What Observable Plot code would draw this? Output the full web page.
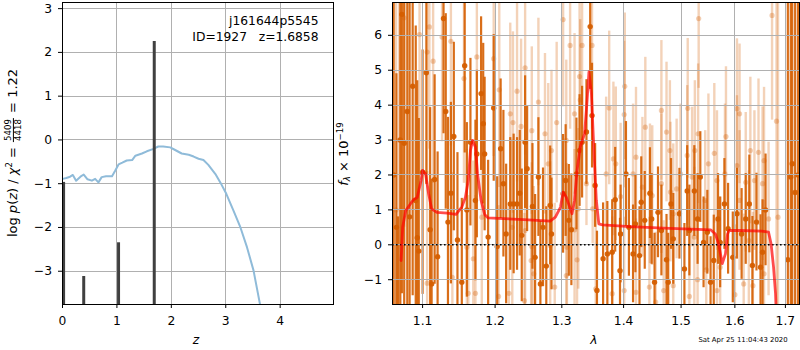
<!DOCTYPE html>
<html><head><meta charset="utf-8">
<script src="https://cdn.jsdelivr.net/npm/d3@7"></script>
<script src="https://cdn.jsdelivr.net/npm/@observablehq/plot@0.6"></script>
<style>
html,body{margin:0;padding:0;background:#fff;}
#wrap{position:relative;width:800px;height:350px;overflow:hidden;font-family:"DejaVu Sans",sans-serif;color:#000;}
#wrap svg.plot{position:absolute;top:0;}
.rot{position:absolute;transform:translate(-50%,-50%) rotate(-90deg);white-space:nowrap;font-size:13px;line-height:1;}
.frac{display:inline-block;vertical-align:middle;text-align:center;font-size:8.6px;line-height:1;margin:0 1px;}
.frac span{display:block;padding:0 1px;}
.frac .num{border-bottom:0.9px solid #000;}
sup{font-size:8.6px;vertical-align:0.55em;line-height:0;}
sub{font-size:8.6px;vertical-align:-0.3em;line-height:0;}
#over{position:absolute;left:0;top:0;pointer-events:none;}
</style></head>
<body><div id="wrap"></div>
<script>
// ---------- left panel data: log p(z) ----------
const pzZ  = [0.005,0.07,0.14,0.19,0.25,0.33,0.39,0.46,0.54,0.60,0.66,0.72,0.80,0.91,0.97,1.03,1.10,1.18,1.28,1.34,1.46,1.55,1.66,1.76,1.85,1.98,2.07,2.19,2.32,2.41,2.50,2.59,2.68,2.81,2.90,3.01,3.14,3.27,3.39,3.51,3.63,3.70];
const pzLog= [-0.89,-0.87,-0.84,-0.80,-0.93,-0.84,-0.79,-0.90,-0.93,-0.89,-0.97,-0.85,-0.83,-0.83,-0.70,-0.56,-0.52,-0.47,-0.46,-0.36,-0.31,-0.26,-0.21,-0.15,-0.15,-0.17,-0.23,-0.31,-0.34,-0.38,-0.43,-0.46,-0.57,-0.78,-0.97,-1.23,-1.61,-2.00,-2.45,-2.98,-3.76,-4.20];
const barZ   = [0.02, 0.39, 1.03, 1.686];
const barTop = [-0.97, -3.12, -2.35, 2.25];
const zTicks = [0,1,2,3,4];
const pTicks = [-3,-2,-1,0,1,2,3];

// ---------- right panel data: spectrum (flux x 1e-19) ----------
const lamD = [1.0625,1.066,1.068,1.071,1.073,1.076,1.080,1.083,1.087,1.091,1.093,1.095,1.100,1.105,1.110,1.112,1.116,1.120,1.128,1.131,1.134,1.138,1.142,1.147,1.153,1.157,1.160,1.165,1.172,1.174,1.180,1.183,1.185,1.190,1.198,1.203,1.208,1.212,1.216,1.222,1.227,1.232,1.236,1.239,1.244,1.247,1.255,1.259,1.264,1.267,1.271,1.276,1.282,1.284,1.302,1.306,1.311,1.315,1.323,1.328,1.332,1.339,1.345,1.348,1.353,1.356,1.366,1.373,1.381,1.386,1.394,1.395,1.404,1.409,1.416,1.420,1.427,1.430,1.436,1.445,1.448,1.453,1.459,1.465,1.474,1.477,1.482,1.486,1.497,1.506,1.511,1.515,1.524,1.530,1.535,1.541,1.548,1.554,1.560,1.568,1.572,1.580,1.587,1.596,1.604,1.613,1.621,1.628,1.634,1.642,1.650,1.654,1.660,1.705,1.711,1.714,1.720,1.726];
const fluxD= [2.0,0.5,-1.8,3.0,6.6,2.91,3.82,0.8,4.54,1.27,0.2,-0.18,2.08,4.93,0.43,-1.12,1.87,-0.34,6.48,3.82,0.65,1.48,3.1,0.14,-1.07,5.13,1.0,2.94,1.27,2.6,4.33,3.47,2.6,0.22,3.92,-0.05,2.75,1.75,0.31,1.17,1.17,1.17,1.48,0.27,2.94,2.18,1.1,-0.36,1.94,-1.12,0.5,-0.61,1.13,0.31,1.46,1.84,0.7,0.43,2.03,2.7,2.94,3.23,6.25,3.7,1.7,-1.31,-0.4,-0.26,-0.21,1.29,-0.74,0.31,2.03,0.5,-0.26,0.6,-0.31,1.22,0.7,1.48,0.74,-1.07,0.93,0.41,-0.43,-1.07,1.17,0.17,0.89,-0.69,1.54,0.41,1.54,0.74,1.94,0.07,0.36,-1.07,-0.45,0.74,0.07,1.17,0.46,-0.36,0.89,0.31,0.74,1.17,-0.59,0.65,-0.64,-0.21,1.0,-0.43,1.94,2.32,1.5,2.0];
const errD = [9,4.4,2.6,9,8,8,8,7,6,5,4.5,3.8,3.5,3.2,3.5,3,3,3,3.3,2.8,3,2.6,2.7,2.5,2.4,2.5,2.5,2.4,2.3,2.4,2.2,2.3,2.2,2.2,2.1,2,2,2.1,2,1.9,2,1.9,1.8,1.9,1.9,1.8,1.8,1.8,1.7,1.8,1.7,1.7,1.7,1.6,1.7,1.6,1.6,1.6,1.6,1.6,1.6,1.5,1.8,1.5,1.2,1.7,1.6,1.5,1.5,1.5,1.5,1.4,1.5,1.4,1.4,1.4,1.4,1.3,1.4,1.3,1.3,1.4,1.3,1.3,1.3,1.4,1.3,1.3,1.3,1.3,1.3,1.3,1.3,1.3,1.3,1.3,1.2,1.3,1.3,1.3,1.3,1.3,1.3,1.3,1.3,1.3,1.3,1.4,1.4,1.4,1.5,1.5,1.6,9,9,9,9,9];

const lamL = [1.0655,1.0695,1.076,1.096,1.106,1.109,1.114,1.126,1.138,1.156,1.174,1.198,1.206,1.232,1.244,1.222,1.226,1.238,1.264,1.254,1.274,1.279,1.284,1.292,1.302,1.307,1.313,1.320,1.328,1.329,1.332,1.339,1.348,1.349,1.376,1.383,1.387,1.401,1.402,1.421,1.437,1.445,1.465,1.474,1.480,1.512,1.511,1.525,1.531,1.532,1.550,1.561,1.583,1.604,1.609,1.604,1.630,1.646,1.654,1.673,1.682,1.685,
  1.106,1.140,1.162,1.172,1.169,1.205,1.220,1.243,1.253,1.257,1.289,1.307,1.324,1.308,1.354,1.381,1.401,1.421,1.444,1.455,1.469,1.486,1.515,1.530,1.546,1.566,1.600,1.617,1.635,1.657,
  1.160,1.181,1.225,1.244,1.254,1.282,1.320,1.326,1.371,1.395,1.416,1.432,1.449,1.465,1.481,1.492,1.499,1.520,1.544,1.566,1.581,1.609,1.621,1.638,1.657,1.666,1.486,1.524,1.572,1.627];
const fluxL= [1.0,3.0,6.5,6.02,5.52,6.24,5.26,5.95,5.83,4.76,5.38,5.33,4.44,4.4,5.07,3.75,3.5,3.39,4.09,3.27,3.18,2.32,2.7,3.5,6.45,2.99,5.71,3.75,4.82,4.15,5.71,1.75,5.71,1.03,3.92,2.46,2.32,3.73,4.54,2.51,3.37,1.46,3.85,3.23,2.7,3.91,2.56,2.7,3.18,6.48,2.32,2.62,3.1,3.9,3.75,2.27,2.7,2.65,1.75,6.57,3.54,0.79,
  -1.1,-0.93,-1.39,-1.39,-0.4,-1.48,-1.39,-1.6,-0.45,-0.83,-1.21,-0.88,-0.43,-0.07,-1.26,-1.4,-1.31,-1.36,-1.21,-1.64,-1.31,-1.17,-1.48,-1.0,-0.72,-1.31,-1.43,-1.12,-1.17,-0.83,
  -0.07,0.79,0.5,0.41,-0.05,-0.02,0.43,1.03,2.03,1.38,2.03,1.65,1.41,1.75,1.51,1.6,2.03,1.94,1.27,1.84,2.03,1.27,1.79,1.84,2.41,0.74,0.89,0.22,-0.64,0.12];
const errL = [9,9,6,4,3.5,3.5,3.5,3,3,3,3,2.8,2.8,2.6,2.5,2.6,2.6,2.5,2.4,2.4,2.3,2.3,2.3,2.3,2.5,2.3,2.4,2.3,2.4,2.3,2.4,1.2,2.4,1.0,2.2,2.2,2.2,2.1,2.1,2,2,2,2,2,2,2,2,2,2,2,2,2,2,2,2,2,2.1,2.1,2.2,3,9,9,
  3.2,3,2.8,2.8,2.8,2.6,2.6,2.5,2.5,2.5,2.4,2.4,2.4,2.4,2.3,2.2,2.1,2.1,2,2,2,2,2,2,2,2,2,2,2.1,2.1,
  2.8,2.7,2.5,2.5,2.4,2.4,2.3,2.3,2.2,2.1,2,2,2,2,2,2,2,2,2,2,2,2,2,2,2.1,2.2,2,2,2,2];

const lamM = [1.072,1.074,1.078,1.084,1.088,1.093,1.098,1.100,1.104,1.108,1.112,1.119,1.133,1.145,1.153,1.158,1.162,1.165,1.168,1.172,1.175,1.180,1.185,1.190,1.213,1.242,1.282,1.290,1.298,1.302,1.307,1.312,1.316,1.320,1.324,1.329,1.336,1.340,1.343,1.347,1.351,1.355,1.359,1.365,1.411,1.469,1.530,1.554,1.563,1.569,1.576,1.582,1.586,1.589,1.609,1.653,1.666,1.671,1.676,1.680,1.681];
const fluxM= [-0.45,0.5,0.98,1.17,1.29,1.36,1.84,2.13,2.03,1.46,1.03,0.93,0.91,0.87,1.08,1.36,1.84,2.7,2.99,2.8,2.03,1.27,0.87,0.77,0.75,0.72,0.68,0.79,1.08,1.51,1.36,1.1,0.89,1.27,2.13,2.8,3.18,4.13,4.95,4.33,2.7,1.27,0.6,0.57,0.52,0.48,0.44,0.43,0.31,0.03,-0.54,-0.26,0.31,0.41,0.41,0.39,0.36,0.03,-0.64,-1.4,-1.8];
const lamTicks = [1.1,1.2,1.3,1.4,1.5,1.6,1.7];
const fTicks = [-1,0,1,2,3,4,5,6];

// ---------- build tables ----------
const pz = pzZ.map((z,i)=>({z, lp: pzLog[i]}));
const bars = barZ.map((z,i)=>({z, top: barTop[i]}));
const dark = lamD.map((l,i)=>({l, f: fluxD[i], e: errD[i]}));
const light = lamL.map((l,i)=>({l, f: fluxL[i], e: errL[i]}));
const model = lamM.map((l,i)=>({l, f: fluxM[i]}));

const minus = d => d < 0 ? "\u2212" + (-d) : String(d);
const FONT = {fontFamily: "'DejaVu Sans', sans-serif", fontSize: "12.3px", background: "transparent", color: "#000", overflow: "visible"};
const GRID = {stroke: "#b0b0b0", strokeOpacity: 1, strokeWidth: 1, shapeRendering: "crispEdges"};
const ORANGE = "#d55e00";

const yLo = -3.76, yHi = 3.14;
const left = Plot.plot({
  width: 340, height: 350,
  marginLeft: 62, marginRight: 7, marginTop: 2, marginBottom: 46,
  style: FONT,
  x: {domain: [0, 4.98]},
  y: {domain: [yLo, yHi]},
  marks: [
    Plot.ruleX(zTicks, {x: d => d, y1: yLo, y2: yHi, ...GRID}),
    Plot.ruleY(pTicks, {y: d => d, x1: 0, x2: 4.98, ...GRID}),
    Plot.line(pz, {x: "z", y: "lp", stroke: "#8fbbd9", strokeWidth: 2, clip: true}),
    Plot.ruleX(bars, {x: "z", y1: yLo, y2: "top", stroke: "#404040", strokeWidth: 3, clip: true}),
    Plot.frame({stroke: "#000", strokeWidth: 1}),
    Plot.axisX({ticks: zTicks, tickSize: 4, tickPadding: 7.5, label: null, tickFormat: minus}),
    Plot.axisY({ticks: pTicks, tickSize: 4, tickPadding: 6.5, label: null, tickFormat: minus})
  ]
});
left.classList.add("plot");
left.style.left = "0px";

const fLo = -1.71, fHi = 6.94;
const right = Plot.plot({
  width: 460, height: 350,
  marginLeft: 52, marginRight: 1, marginTop: 2, marginBottom: 46,
  style: FONT,
  x: {type: "log", domain: [1.061, 1.729]},
  y: {domain: [fLo, fHi]},
  marks: [
    Plot.ruleX(light, {x: "l", y1: d => d.f - d.e, y2: d => d.f + d.e, stroke: ORANGE, strokeOpacity: 0.28, strokeWidth: 2.4, clip: true}),
    Plot.dot(light, {x: "l", y: "f", r: 2.6, fill: ORANGE, fillOpacity: 0.3, stroke: "none", clip: true}),
    Plot.ruleX(dark, {x: "l", y1: d => d.f - d.e, y2: d => d.f + d.e, stroke: ORANGE, strokeOpacity: 0.9, strokeWidth: 2.2, clip: true}),
    Plot.dot(dark, {x: "l", y: "f", r: 2.7, fill: ORANGE, fillOpacity: 0.95, stroke: "none", clip: true}),
    Plot.ruleX(lamTicks, {x: d => d, y1: fLo, y2: fHi, ...GRID}),
    Plot.ruleY(fTicks, {y: d => d, x1: 1.061, x2: 1.729, ...GRID}),
    Plot.ruleY([0], {stroke: "#000", strokeWidth: 1.6, strokeDasharray: "1.6,2.4"}),
    Plot.line(model, {x: "l", y: "f", stroke: "#ff0000", strokeOpacity: 0.7, strokeWidth: 2.8, clip: true}),
    Plot.frame({stroke: "#000", strokeWidth: 1}),
    Plot.axisX({ticks: lamTicks, tickSize: 4, tickPadding: 7.5, label: null, tickFormat: d => d.toFixed(1)}),
    Plot.axisY({ticks: fTicks, tickSize: 4, tickPadding: 6.5, label: null, tickFormat: minus})
  ]
});
right.classList.add("plot");
right.style.left = "340px";

const wrap = document.getElementById("wrap");
wrap.appendChild(left);
wrap.appendChild(right);

// free texts
const ns = "http://www.w3.org/2000/svg";
const over = document.createElementNS(ns, "svg");
over.setAttribute("id", "over");
over.setAttribute("width", 800); over.setAttribute("height", 350);
over.setAttribute("font-family", "DejaVu Sans, sans-serif");
const texts = [
  {x: 318.5, y: 25, t: "j161644p5545", a: "end", s: 12.3},
  {x: 318.5, y: 41, t: "ID=1927\u00a0\u00a0\u00a0z=1.6858", a: "end", s: 12.3},
  {x: 196, y: 344, t: "z", a: "middle", s: 12.3, it: true},
  {x: 594, y: 344, t: "\u03bb", a: "middle", s: 12.3, it: true},
  {x: 743, y: 341.5, t: "Sat Apr 25 11:04:43 2020", a: "middle", s: 6.9}
];
for (const d of texts) {
  const el = document.createElementNS(ns, "text");
  el.setAttribute("x", d.x); el.setAttribute("y", d.y);
  el.setAttribute("text-anchor", d.a);
  el.setAttribute("font-size", d.s);
  if (d.it) el.setAttribute("font-style", "italic");
  el.textContent = d.t;
  over.appendChild(el);
}
wrap.appendChild(over);

const yl = document.createElement("div");
yl.className = "rot";
yl.style.left = "13px"; yl.style.top = "153px";
yl.innerHTML = 'log <i>p</i>(<i>z</i>) / <i>\u03c7</i><sup>2</sup> = <span class="frac"><span class="num">5409</span><span class="den">4418</span></span> = 1.22';
wrap.appendChild(yl);

const yr = document.createElement("div");
yr.className = "rot";
yr.style.left = "343px"; yr.style.top = "154px";
yr.innerHTML = '<i>f</i><sub><i>\u03bb</i></sub> \u00d7 10<sup>\u221219</sup>';
wrap.appendChild(yr);
</script>
</body></html>
